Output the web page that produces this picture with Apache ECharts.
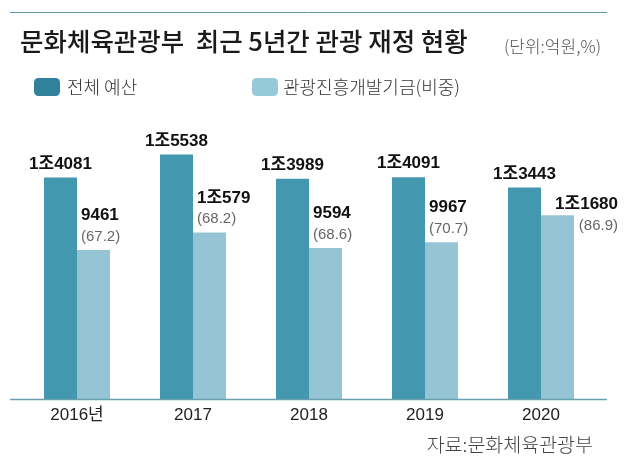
<!DOCTYPE html>
<html><head><meta charset="utf-8">
<script src="https://cdn.jsdelivr.net/npm/echarts@6/dist/echarts.min.js"></script>
<style>html,body{margin:0;padding:0;background:#fff}#c{width:630px;height:466px}</style>
</head><body><div id="c"></div>
<script>
const categories = ['2016년', '2017', '2018', '2019', '2020'];
const totalBudget = [14081, 15538, 13989, 14091, 13443];
const tourismFund = [9461, 10579, 9594, 9967, 11680];
const fundShare = ['67.2', '68.2', '68.6', '70.7', '86.9'];
const seriesNames = ['전체 예산', '관광진흥개발기금(비중)'];
const titleText = '문화체육관광부  최근 5년간 관광 재정 현황';
const unitText = '(단위:억원,%)';
const sourceText = '자료:문화체육관광부';

const CJK = '"Noto Sans CJK KR", "Noto Sans", sans-serif';
const NUM = '"Liberation Sans", "Noto Sans CJK KR", sans-serif';
const DARK = '#4397ae';
const LIGHT = '#95c4d5';
function fmt(v){ return v >= 10000 ? Math.floor(v/10000) + '조' + (v % 10000) : String(v); }

// label placement (style only): last item sits beside its bar
const fundLabelDefault = { position: [4, -3], align: 'left' };
const fundLabelLast = { position: [77, 21], align: 'right' };
const fundData = tourismFund.map((v, i) => ({
  value: v,
  label: i === tourismFund.length - 1 ? fundLabelLast : fundLabelDefault
}));

const chart = echarts.init(document.getElementById('c'));
chart.setOption({
  backgroundColor: '#fff',
  textStyle: { fontFamily: CJK },
  animation: false,
  title: [
    { text: titleText, left: 15, top: 24, textStyle: { fontFamily: CJK, fontSize: 25.5, fontWeight: 500, color: '#1a1a1a' } },
    { text: unitText, right: 24, top: 33, textStyle: { fontFamily: CJK, fontSize: 17, fontWeight: 300, color: '#555' } },
    { text: sourceText, right: 32, top: 430, textStyle: { fontFamily: CJK, fontSize: 19.5, fontWeight: 300, color: '#444' } }
  ],
  legend: [
    { data: [{ name: seriesNames[0], itemStyle: { color: '#2f8299' } }], left: 29, top: 73, itemWidth: 26, itemHeight: 18,
      textStyle: { fontFamily: CJK, fontSize: 18, fontWeight: 300, color: '#333', padding: [0,0,0,2] }, selectedMode: false },
    { data: [{ name: seriesNames[1], itemStyle: { color: '#96cadb' } }], left: 247, top: 73, itemWidth: 26, itemHeight: 18,
      textStyle: { fontFamily: CJK, fontSize: 18, fontWeight: 300, color: '#333', padding: [0,0,0,0] }, selectedMode: false }
  ],
  graphic: [
    { type: 'line', shape: { x1: 10, y1: 12.5, x2: 607, y2: 12.5 }, style: { stroke: '#5a96a6', lineWidth: 1 } },
    { type: 'line', shape: { x1: 10, y1: 399.5, x2: 607, y2: 399.5 }, style: { stroke: '#6a9faf', lineWidth: 1.5 }, z: 10 }
  ],
  grid: { left: 19, right: 31, top: 100, bottom: 67 },
  xAxis: {
    type: 'category', data: categories,
    axisLine: { show: false }, axisTick: { show: false },
    axisLabel: { fontFamily: NUM, fontSize: 17, color: '#222', margin: 8 }
  },
  yAxis: { type: 'value', min: 0, max: 19000, show: false, splitLine: { show: false } },
  series: [
    { name: seriesNames[0], type: 'bar', data: totalBudget, barWidth: 33, barGap: '0%',
      itemStyle: { color: DARK },
      label: { show: true, position: 'top', distance: 5, fontFamily: NUM, fontSize: 17, fontWeight: 'bold', color: '#111',
        formatter: p => fmt(p.value) } },
    { name: seriesNames[1], type: 'bar', data: fundData, barWidth: 33,
      itemStyle: { color: LIGHT },
      label: { show: true, verticalAlign: 'bottom',
        formatter: p => '{v|' + fmt(p.value) + '}\n{p|(' + fundShare[p.dataIndex] + ')}',
        rich: {
          v: { fontFamily: NUM, fontSize: 17, fontWeight: 'bold', color: '#111', lineHeight: 21 },
          p: { fontFamily: NUM, fontSize: 15, color: '#666', lineHeight: 21 }
        } } }
  ]
});
</script></body></html>
